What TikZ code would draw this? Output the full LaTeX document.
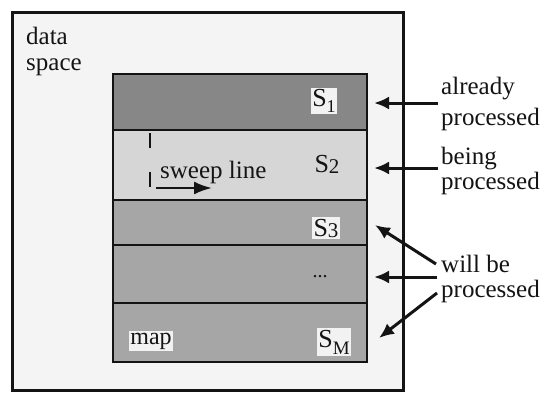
\documentclass[tikz,border=0pt]{standalone}
\usepackage{fontspec}
\setmainfont{Liberation Serif}
\usetikzlibrary{arrows.meta,calc}
\definecolor{dark}{HTML}{878787}
\definecolor{mid}{HTML}{A6A6A6}
\definecolor{light}{HTML}{D6D6D6}
\definecolor{paper}{HTML}{F4F4F4}
\definecolor{ink}{HTML}{141414}
\tikzset{
  strip/.style={draw=ink, line width=1.8pt, minimum width=254pt, inner sep=0pt, outer sep=0pt},
  lbl/.style={inner sep=0pt, align=left, text=ink},
  tag/.style={fill=white!95!black, inner sep=1.5pt, text=ink},
  arr/.style={line width=3pt, draw=ink, -{Latex[length=15pt,width=13pt]}},
  f25/.style={font=\fontsize{25}{28}\selectfont}
}
\begin{document}
\begin{tikzpicture}[x=1pt,y=-1pt]
\useasboundingbox (0,0) rectangle (550,394);
\fill[white] (0,0) rectangle (550,394);
% outer data space
\draw[line width=3pt, draw=ink, fill=paper] (12,12) rectangle (403,390);
\node[lbl, anchor=north west, font=\fontsize{25}{26}\selectfont] (ds) at (26,27) {data\\space};
% strips
\node[strip, fill=dark,  minimum height=56pt] (s1) at (240,102) {};
\node[strip, fill=light, minimum height=70pt] (s2) at (240,165) {};
\node[strip, fill=mid,   minimum height=45pt] (s3) at (240,222.5) {};
\node[strip, fill=mid,   minimum height=58pt] (s4) at (240,274) {};
\node[strip, fill=mid,   minimum height=59pt] (sm) at (240,332.5) {};
% strip labels
\node[tag, font=\fontsize{26}{26}\selectfont] (t1) at (324,101) {S\raisebox{-6pt}{\fontsize{18}{18}\selectfont 1}};
\node[tag, fill=none, font=\fontsize{26}{26}\selectfont] (t2) at (327,164) {S\raisebox{-1pt}{\fontsize{21}{21}\selectfont 2}};
\node[tag, font=\fontsize{26}{26}\selectfont] (t3) at (326,228) {S\raisebox{-1pt}{\fontsize{21}{21}\selectfont 3}};
\node[lbl, font=\fontsize{20}{20}\selectfont] (t4) at (320,277) {...};
\node[tag, font=\fontsize{26}{26}\selectfont] (tm) at (334,342) {S\raisebox{-7pt}{\fontsize{19}{19}\selectfont M}};
\node[tag, font=\fontsize{24}{24}\selectfont] (map) at (151,341) {map};
% sweep line
\draw[line width=2.2pt, draw=ink, dash pattern=on 15pt off 24pt] (150,133) -- (150,190);
\node[lbl, f25, anchor=base west] (sw) at (160,178) {sweep line};
\coordinate (a0) at (156,188);
\coordinate (a1) at (212,188);
\draw[line width=2.4pt, draw=ink, -{Latex[length=18pt,width=13pt]}] (a0) -- (a1);
% right labels
\node[lbl, anchor=west, font=\fontsize{25}{31}\selectfont] (al) at (441,104) {already\\processed};
\node[lbl, anchor=west, font=\fontsize{25}{25}\selectfont] (bp) at (441,171) {being\\processed};
\node[lbl, anchor=west, font=\fontsize{25}{25}\selectfont] (wb) at (441,279) {will be\\processed};
% arrows
\coordinate (tx) at (374,0);
\draw[arr] ($(al.west)+(-3,-1)$) -- ($(al.west -| tx)+(0,-1)$);
\draw[arr] ($(bp.west)+(-3,-3)$) -- ($(bp.west -| tx)+(0,-3)$);
\coordinate (w1) at ($(wb.west)+(-5,-15)$);
\coordinate (w2) at ($(wb.west)+(-4,-2)$);
\coordinate (w3) at ($(wb.west)+(-4,14)$);
\coordinate (e1) at (375,225);
\coordinate (e2) at (374,277);
\coordinate (e3) at (379,338);
\draw[arr] (w1) -- (e1);
\draw[arr] (w2) -- (e2);
\draw[arr] (w3) -- (e3);
\end{tikzpicture}
\end{document}
